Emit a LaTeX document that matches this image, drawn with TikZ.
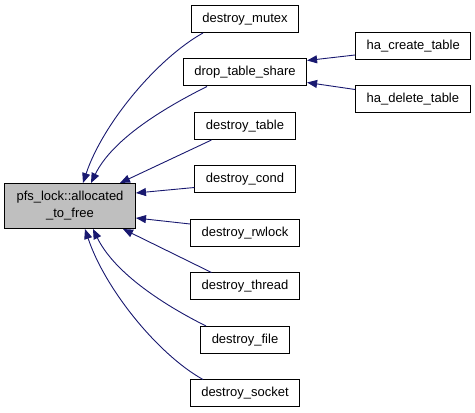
\documentclass[tikz,border=0pt]{standalone}
\usepackage{fontspec}
\setmainfont{Liberation Sans}
\usetikzlibrary{positioning, arrows.meta}
\definecolor{edgeblue}{HTML}{191970}
\definecolor{mainfill}{HTML}{BFBFBF}

\begin{document}
\begin{tikzpicture}[x=1pt, y=1pt, node distance=25.5pt,
    fn/.style={draw=black, line width=1pt, inner xsep=11pt, inner ysep=0pt,
      minimum height=27pt, font=\fontsize{13}{17}\selectfont},
    caller/.style={draw=edgeblue, line width=0.9pt,
      -{Triangle[length=10pt, width=8pt, fill=edgeblue]}}]
    \useasboundingbox (0,0) rectangle (475,413);

    % Node for the function itself
    \node[fn, fill=mainfill, align=center, minimum height=45pt, inner xsep=12pt] (alloc) at (70,207) {pfs\_lock::allocated\\\_to\_free};

    % Nodes for the callers
    \node[fn] (mutex) at (245,394) {destroy\_mutex};
    \node[fn, below=of mutex] (share) {drop\_table\_share};
    \node[fn, below=of share] (table) {destroy\_table};
    \node[fn, below=of table] (cond) {destroy\_cond};
    \node[fn, below=of cond] (rwlock) {destroy\_rwlock};
    \node[fn, below=of rwlock] (thread) {destroy\_thread};
    \node[fn, below=of thread] (file) {destroy\_file};
    \node[fn, below=of file] (socket) {destroy\_socket};

    % Nodes for the callers of drop_table_share
    \node[fn, right=48pt of share, yshift=26.5pt] (hacreate) {ha\_create\_table};
    \node[fn, right=48pt of share, yshift=-26.5pt] (hadelete) {ha\_delete\_table};

    % Arrows
    \draw[caller] ([xshift=-42pt]mutex.south) .. controls +(-45,-25) and +(20,60) .. ([xshift=13pt]alloc.north);
    \draw[caller] ([xshift=-38pt]share.south) .. controls +(-40,-20) and +(22,45) .. ([xshift=21pt]alloc.north);
    \draw[caller] ([xshift=-33.5pt]table.south) -- ([xshift=50pt]alloc.north);
    \draw[caller] ([yshift=-8pt]cond.west) -- ([yshift=13pt]alloc.east);
    \draw[caller] ([yshift=9pt]rwlock.west) -- ([yshift=-12pt]alloc.east);
    \draw[caller] ([xshift=-33.5pt]thread.north) -- ([xshift=53pt]alloc.south);
    \draw[caller] ([xshift=-39pt]file.north) .. controls +(-40,20) and +(22,-45) .. ([xshift=23pt]alloc.south);
    \draw[caller] ([xshift=-42pt]socket.north) .. controls +(-45,25) and +(20,-60) .. ([xshift=15pt]alloc.south);
    \draw[caller] ([yshift=-9pt]hacreate.west) -- ([yshift=12pt]share.east);
    \draw[caller] ([yshift=9.5pt]hadelete.west) -- ([yshift=-10pt]share.east);

\end{tikzpicture}
\end{document}
